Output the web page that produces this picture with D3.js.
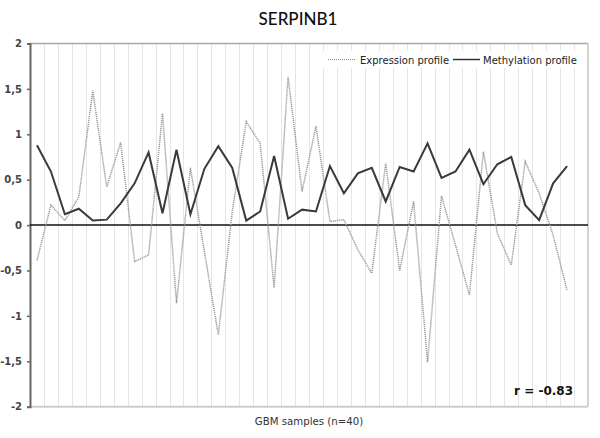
<!DOCTYPE html>
<html>
<head>
<meta charset="utf-8">
<script src="https://cdn.jsdelivr.net/npm/d3@7"></script>
<style>
  html, body { margin: 0; padding: 0; background: #fff; }
  svg { display: block; }
</style>
</head>
<body>
<svg id="chart" width="600" height="438"></svg>
<script>
// ---- data ----
const categories = d3.range(1, 41).map(String);
const expression = [-0.39, 0.22, 0.05, 0.31, 1.48, 0.42, 0.91, -0.40, -0.33, 1.23,
                    -0.86, 0.63, -0.29, -1.21, 0.15, 1.14, 0.90, -0.69, 1.63, 0.37,
                    1.09, 0.04, 0.06, -0.27, -0.53, 0.68, -0.50, 0.26, -1.51, 0.32,
                    -0.22, -0.77, 0.81, -0.09, -0.44, 0.70, 0.35, -0.11, -0.72, null];
const methylation = [0.88, 0.59, 0.12, 0.18, 0.05, 0.06, 0.24, 0.46, 0.80, 0.13,
                     0.83, 0.12, 0.62, 0.87, 0.63, 0.05, 0.15, 0.76, 0.07, 0.17,
                     0.15, 0.65, 0.35, 0.57, 0.63, 0.26, 0.64, 0.59, 0.90, 0.52,
                     0.59, 0.83, 0.45, 0.67, 0.75, 0.22, 0.055, 0.46, 0.65, null];
const yTicks = [-2, -1.5, -1, -0.5, 0, 0.5, 1, 1.5, 2];
const yTickLabels = ["-2", "-1,5", "-1", "-0,5", "0", "0,5", "1", "1,5", "2"];
const seriesNames = ["Expression profile", "Methylation profile"];
const titleText = "SERPINB1";
const xTitle = "GBM samples (n=40)";
const rText = "r = -0.83";

// ---- layout ----
const svg = d3.select("#chart");
const L = 30, R = 588, T = 43.5, B = 406.7;

const x = d3.scaleBand().domain(categories).range([L, R]).padding(0);
const y = d3.scaleLinear().domain([-2, 2]).range([B, T]);
const cx = c => x(c) + x.bandwidth() / 2;

// vertical gridlines at category boundaries
svg.append("g").selectAll("line")
  .data(categories.slice(1))
  .join("line")
  .attr("x1", d => Math.round(x(d)) + 0.5).attr("x2", d => Math.round(x(d)) + 0.5)
  .attr("y1", T).attr("y2", B)
  .attr("stroke", "#e6e6e6").attr("stroke-width", 1);

// frame: top, right, bottom
svg.append("line").attr("x1", L).attr("x2", R).attr("y1", T).attr("y2", T)
  .attr("stroke", "#a8a8a8").attr("stroke-width", 1.5);
svg.append("line").attr("x1", R).attr("x2", R).attr("y1", T).attr("y2", B)
  .attr("stroke", "#c4c4c4").attr("stroke-width", 1.5);
svg.append("line").attr("x1", L).attr("x2", R).attr("y1", B).attr("y2", B)
  .attr("stroke", "#cfcfcf").attr("stroke-width", 2);

// legend box (white background)
svg.append("rect").attr("x", 322).attr("y", 51).attr("width", 262).attr("height", 17)
  .attr("fill", "#fff");

// y axis
const yAxis = d3.axisLeft(y).tickValues(yTicks)
  .tickFormat((d, i) => yTickLabels[i]).tickSize(3).tickPadding(5);
const gy = svg.append("g").attr("transform", `translate(${L},0)`).call(yAxis);
gy.select(".domain").attr("stroke", "#666").attr("stroke-width", 2);
gy.selectAll(".tick line").attr("stroke", "#666").attr("stroke-width", 1.5);
gy.selectAll(".tick text")
  .attr("font-family", "DejaVu Sans, Verdana, sans-serif")
  .attr("font-size", 10).attr("font-weight", "bold").attr("fill", "#444");

// zero line
svg.append("line").attr("x1", L).attr("x2", R).attr("y1", y(0)).attr("y2", y(0))
  .attr("stroke", "#111").attr("stroke-width", 1.5);

// lines
const lineGen = vals => d3.line()
  .defined((d, i) => vals[i] !== null)
  .x((d, i) => cx(categories[i]))
  .y((d, i) => y(vals[i]));

svg.append("path").datum(expression)
  .attr("d", lineGen(expression))
  .attr("fill", "none").attr("stroke", "#9a9a9a").attr("stroke-width", 1.5)
  .attr("stroke-dasharray", "1.2,0.8");

svg.append("path").datum(methylation)
  .attr("d", lineGen(methylation))
  .attr("fill", "none").attr("stroke", "#3a3a3a").attr("stroke-width", 2)
  .attr("stroke-linejoin", "miter");

// legend
const lg = svg.append("g").attr("font-family", "DejaVu Sans, Verdana, sans-serif")
  .attr("font-size", 10).attr("fill", "#222");
lg.append("line").attr("x1", 328).attr("x2", 356).attr("y1", 59.5).attr("y2", 59.5)
  .attr("stroke", "#8a8a8a").attr("stroke-width", 1.2).attr("stroke-dasharray", "1,1");
lg.append("text").attr("x", 360).attr("y", 63.5).text(seriesNames[0]);
lg.append("line").attr("x1", 453).attr("x2", 480).attr("y1", 59.5).attr("y2", 59.5)
  .attr("stroke", "#333").attr("stroke-width", 1.5);
lg.append("text").attr("x", 483).attr("y", 63.5).text(seriesNames[1]);

// title
svg.append("text").attr("x", 298).attr("y", 25).attr("text-anchor", "middle")
  .attr("font-family", "Lato, 'Open Sans', sans-serif").attr("font-size", 17)
  .attr("font-weight", 500).attr("fill", "#111").text(titleText);

// x axis title
svg.append("text").attr("x", 309).attr("y", 425).attr("text-anchor", "middle")
  .attr("font-family", "DejaVu Sans, Verdana, sans-serif").attr("font-size", 10.2)
  .attr("fill", "#333").text(xTitle);

// r annotation
svg.append("text").attr("x", 573).attr("y", 395).attr("text-anchor", "end")
  .attr("font-family", "DejaVu Sans, Verdana, sans-serif").attr("font-size", 12)
  .attr("font-weight", "bold").attr("fill", "#111").text(rText);
</script>
</body>
</html>
